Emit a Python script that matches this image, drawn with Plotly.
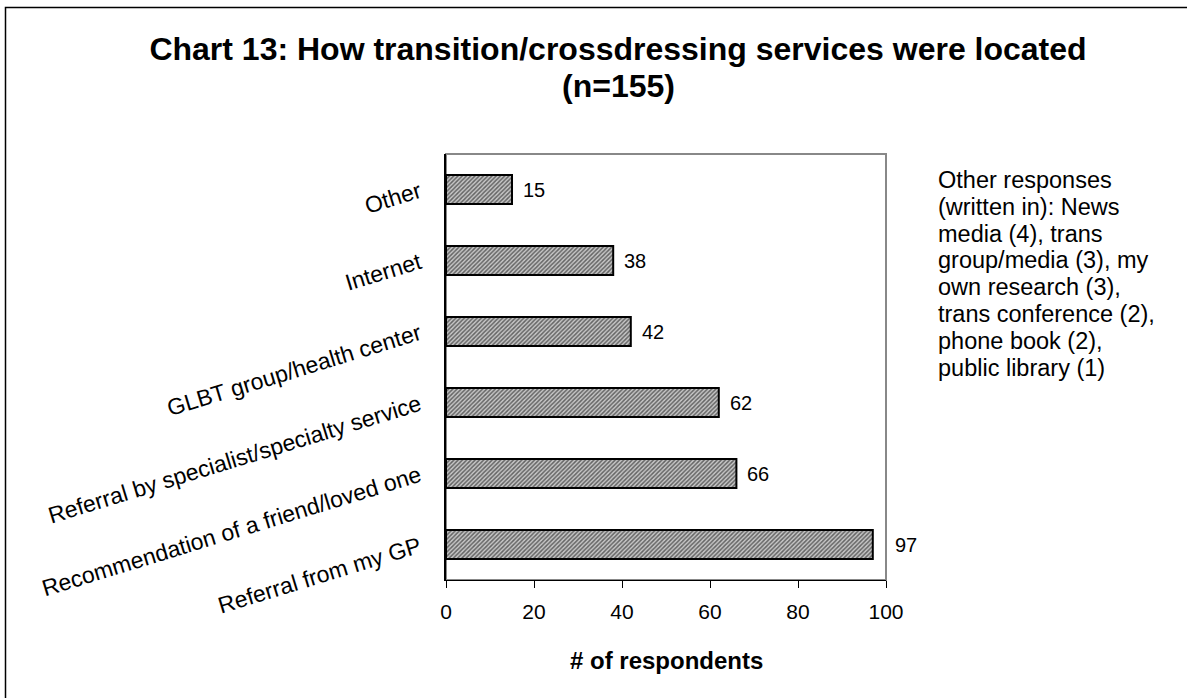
import plotly.graph_objects as go

categories = ["Referral from my GP", "Recommendation of a friend/loved one",
              "Referral by specialist/specialty service", "GLBT group/health center",
              "Internet", "Other"]
values = [97, 66, 62, 42, 38, 15]
x_ticks = [0, 20, 40, 60, 80, 100]
title_line1 = "Chart 13: How transition/crossdressing services were located"
title_line2 = "(n=155)"
note_lines = ["Other responses", "(written in): News", "media (4), trans", "group/media (3), my",
              "own research (3),", "trans conference (2),", "phone book (2),", "public library (1)"]

font = "Arial, Liberation Sans, sans-serif"

# plot area in pixels
L, T, PW, PH = 446, 154, 440, 426
W, H = 1187, 698
XMAX = 100


def px_x(x):
    return (x - L) / PW


def px_y(y):
    return 1 - (y - T) / PH


fig = go.Figure(go.Bar(
    x=values, y=categories, orientation="h",
    marker=dict(color="#909090", line=dict(color="black", width=2),
                pattern=dict(shape="/", fgcolor="#000000", bgcolor="#c8c8c8", size=3, solidity=0.5)),
    width=0.41, hoverinfo="skip",
))

annotations = []
for c, v in zip(categories, values):
    bar_end_px = L + PW * v / XMAX
    shift = 9
    if bar_end_px + shift + 22 > L + PW:  # label would cross the frame: push it outside
        shift = (L + PW + 7) - bar_end_px
    annotations.append(dict(x=v, y=c, xref="x", yref="y", text=str(v), showarrow=False,
                            xanchor="left", yanchor="middle", xshift=shift,
                            font=dict(family=font, size=20, color="black")))
for i, line in enumerate(note_lines):
    annotations.append(dict(text=line, xref="paper", yref="paper",
                            x=px_x(936), y=px_y(180 + 26.8 * i), xanchor="left", yanchor="middle",
                            showarrow=False, font=dict(family=font, size=23.5, color="black")))
annotations.append(dict(text="<b>" + title_line2 + "</b>", xref="paper", yref="paper",
                        x=px_x(618), y=px_y(86), xanchor="center", yanchor="middle",
                        showarrow=False, font=dict(family=font, size=32, color="black")))
annotations.append(dict(text="<b># of respondents</b>", xref="paper", yref="paper",
                        x=px_x(666), y=px_y(660), xanchor="center", yanchor="middle",
                        showarrow=False, font=dict(family=font, size=24, color="black")))

fig.update_layout(
    width=W, height=H,
    margin=dict(l=L, r=W - L - PW, t=T, b=H - T - PH),
    paper_bgcolor="white", plot_bgcolor="white",
    showlegend=False,
    title=dict(text="<b>" + title_line1 + "</b>", x=618 / W, xanchor="center",
               y=1 - 49 / H, yanchor="middle", yref="container",
               font=dict(family=font, size=32, color="black")),
    xaxis=dict(range=[0, XMAX], tickvals=x_ticks, ticks="outside", ticklen=7, tickcolor="black",
               showline=True, linecolor="black", linewidth=1, showgrid=False, zeroline=False,
               tickfont=dict(family=font, size=21, color="black"), ticklabelstandoff=6),
    yaxis=dict(showline=True, linecolor="black", linewidth=2, ticks="", showgrid=False,
               tickangle=-17, tickfont=dict(family=font, size=23, color="black"),
               ticklabelstandoff=20),
    shapes=[
        dict(type="rect", xref="paper", yref="paper", x0=0, x1=1, y0=0, y1=1,
             line=dict(color="#888888", width=2), layer="below"),
        dict(type="rect", xref="paper", yref="paper",
             x0=px_x(5.5), x1=px_x(1300), y0=px_y(800), y1=px_y(7.5),
             line=dict(color="black", width=1.5), layer="below"),
    ],
    annotations=annotations,
)
fig.write_html("out.html", config={"displayModeBar": False},
               post_script="document.body.style.margin='0';")
